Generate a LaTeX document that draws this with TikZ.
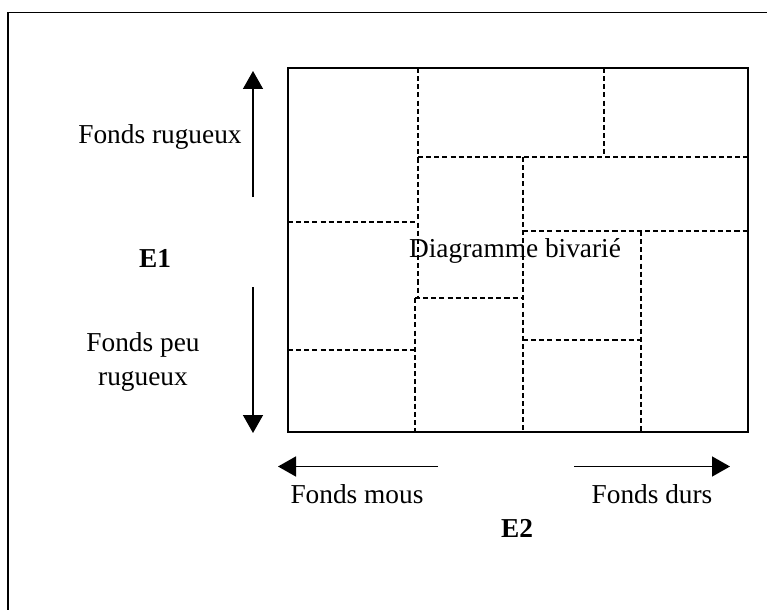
\documentclass[tikz,border=0pt]{standalone}
\usepackage{fontspec}
\setmainfont{Liberation Serif}
\usetikzlibrary{arrows.meta}
\begin{document}
\begin{tikzpicture}[x=0.75pt,y=-0.75pt,
  lbl/.style={anchor=base,inner sep=0pt,font=\fontsize{20.5}{24}\selectfont},
  blbl/.style={lbl,font=\fontsize{20.5}{24}\selectfont\bfseries},
  part/.style={draw=black,line width=1pt,dash pattern=on 3.8pt off 2.3pt},
  axis/.style={draw=black,line width=1.1pt,-{Triangle[length=13.5pt,width=15pt]}}]
\useasboundingbox (0,0) rectangle (767,610);
% outer frame
\draw[line width=1.1pt] (8,610) -- (8,12.5) -- (767,12.5);
% inner box
\draw[line width=1.5pt] (288,68) rectangle (748,432);
% partitions
\draw[part] (418,68) -- (418,298);
\draw[part] (288,222) -- (418,222);
\draw[part] (418,157) -- (748,157);
\draw[part] (604,68) -- (604,157);
\draw[part] (415,298) -- (523,298);
\draw[part] (415,298) -- (415,432);
\draw[part] (288,350) -- (415,350);
\draw[part] (523,157) -- (523,432);
\draw[part] (523,231) -- (748,231);
\draw[part] (641,231) -- (641,432);
\draw[part] (523,340) -- (641,340);
% labels
\node[lbl] (diag) at (515,257) {Diagramme bivarié};
\node[lbl] (rug) at (160,143) {Fonds rugueux};
\node[blbl] (e1) at (155,267) {E1};
\node[lbl,align=center] (peu) at (143,385) {Fonds peu\\[1pt]rugueux};
\node[lbl] (mous) at (357,503) {Fonds mous};
\node[lbl] (durs) at (652,503) {Fonds durs};
\node[blbl] (e2) at (517,537) {E2};
% axis arrows
\coordinate (u0) at (253,197); \coordinate (u1) at (253,71);
\coordinate (d0) at (253,287); \coordinate (d1) at (253,433);
\coordinate (l0) at (438,466.5); \coordinate (l1) at (278,466.5);
\coordinate (r0) at (574,466.5); \coordinate (r1) at (730,466.5);
\draw[axis] (u0) -- (u1);
\draw[axis] (d0) -- (d1);
\draw[axis] (l0) -- (l1);
\draw[axis] (r0) -- (r1);
\end{tikzpicture}
\end{document}
